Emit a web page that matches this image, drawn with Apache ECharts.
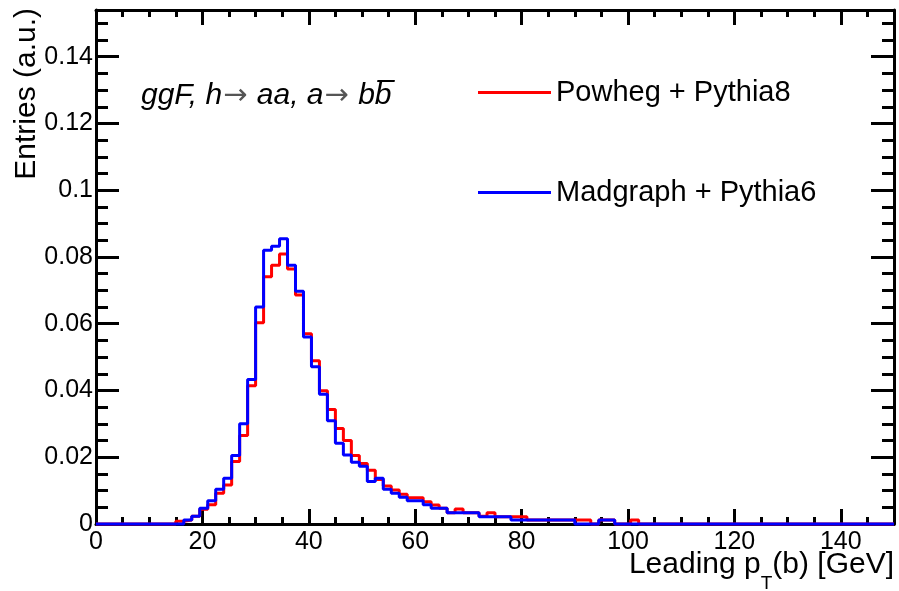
<!DOCTYPE html>
<html>
<head>
<meta charset="utf-8">
<script src="https://cdn.jsdelivr.net/npm/echarts@6/dist/echarts.min.js"></script>
<style>
  html, body { margin: 0; padding: 0; background: #fff; }
  #chart { width: 899px; height: 591px; }
</style>
</head>
<body>
<div id="chart"></div>
<script>
// 100 bins of 1.5 GeV between 0 and 150; bins outside FIRST_BIN..FIRST_BIN+len are empty
const BIN_WIDTH = 1.5
const N_BINS = 100
const FIRST_BIN = 10

const SERIES_NAMES = ['Powheg + Pythia8', 'Madgraph + Pythia6']

const POWHEG = [
  0.0008, 0.0012, 0.0023, 0.0044, 0.0058, 0.0092, 0.0117, 0.0187, 0.0265, 0.0414,
  0.0603, 0.0741, 0.0775, 0.0809, 0.0764, 0.0686, 0.0570, 0.0489, 0.0399, 0.0343,
  0.0286, 0.0250, 0.0205, 0.0181, 0.0161, 0.0133, 0.0114, 0.0102, 0.0089, 0.0079,
  0.0079, 0.0067, 0.0057, 0.0047, 0.0034, 0.0045, 0.0034, 0.0034, 0.0023, 0.0034,
  0.0022, 0.0022, 0.0022, 0.0022, 0.0012, 0.0012, 0.0012, 0.0012, 0.0012, 0.0012,
  0.0012, 0.0012, 0, 0.0012, 0.0012, 0, 0, 0.0012,
]
const MADGRAPH = [
  0, 0.0012, 0.0023, 0.0047, 0.0070, 0.0104, 0.0137, 0.0205, 0.0300, 0.0433,
  0.0650, 0.0820, 0.0832, 0.0855, 0.0775, 0.0697, 0.0560, 0.0471, 0.0389, 0.0309,
  0.0242, 0.0207, 0.0185, 0.0173, 0.0127, 0.0137, 0.0104, 0.0092, 0.0080, 0.0070,
  0.0070, 0.0058, 0.0047, 0.0047, 0.0034, 0.0034, 0.0034, 0.0034, 0.0022, 0.0022,
  0.0022, 0.0022, 0.0012, 0.0012, 0.0012, 0.0012, 0.0012, 0.0012, 0.0012, 0.0012,
  0, 0, 0, 0.0012, 0.0012, 0, 0, 0,
]

const X_MAX = 150
const Y_MAX = 0.154
const FONT = '"Liberation Sans", Arial, sans-serif'

function histPoints(vals) {
  const pts = []
  for (let k = 0; k < N_BINS; k++) {
    const i = k - FIRST_BIN
    pts.push([k * BIN_WIDTH, i >= 0 && i < vals.length ? vals[i] : 0])
  }
  pts.push([N_BINS * BIN_WIDTH, pts[pts.length - 1][1]])
  return pts
}

// ROOT style frame: major + minor ticks on all four sides, pointing inward
function xAxis(position, interval, tickLen, labels) {
  return {
    type: 'value', position, min: 0, max: X_MAX, interval,
    axisLine: { show: interval === 20, onZero: false, lineStyle: { color: '#000', width: 3 } },
    axisTick: { show: true, inside: true, length: tickLen, lineStyle: { color: '#000', width: 3 } },
    axisLabel: labels
      ? { show: true, showMaxLabel: false, margin: 6, color: '#000', fontSize: 25, fontFamily: FONT }
      : { show: false },
    splitLine: { show: false },
  }
}
function yAxis(position, interval, tickLen, labels) {
  return {
    type: 'value', position, min: 0, max: Y_MAX, interval,
    axisLine: { show: interval === 0.02, onZero: false, lineStyle: { color: '#000', width: 3 } },
    axisTick: { show: true, inside: true, length: tickLen, lineStyle: { color: '#000', width: 3 } },
    axisLabel: labels
      ? { show: true, showMaxLabel: false, margin: 3, color: '#000', fontSize: 25, fontFamily: FONT,
          formatter: v => String(+v.toFixed(3)) }
      : { show: false },
    splitLine: { show: false },
  }
}

const chart = echarts.init(document.getElementById('chart'), null, { renderer: 'canvas' })

const txt = { fontSize: 30, fontFamily: FONT, fontStyle: 'italic', fill: '#000' }
const arrow = { fontSize: 29, fontFamily: '"DejaVu Sans"', fill: '#555', padding: [0, 1, 0, 1] }

const option = {
  animation: false,
  backgroundColor: '#fff',
  grid: { left: 96, right: 5, top: 10, bottom: 67, containLabel: false },
  xAxis: [
    xAxis('bottom', 20, 15, true),
    xAxis('bottom', 5, 7, false),
    xAxis('top', 20, 15, false),
    xAxis('top', 5, 7, false),
  ],
  yAxis: [
    yAxis('left', 0.02, 23, true),
    yAxis('left', 0.005, 12, false),
    yAxis('right', 0.02, 23, false),
    yAxis('right', 0.005, 12, false),
  ],
  legend: {
    orient: 'vertical', left: 473, top: 73, itemGap: 71,
    itemWidth: 73, itemHeight: 3, icon: 'rect',
    selectedMode: false,
    textStyle: { color: '#000', fontSize: 29, fontFamily: FONT },
    data: SERIES_NAMES,
  },
  graphic: [
    {
      type: 'text', left: 141, top: 81,
      style: {
        text: '{t|ggF, h}{a|\u2192}{t| aa, a}{a|\u2192}{t| bb\u0305}',
        rich: { t: txt, a: arrow },
      },
    },
    {
      type: 'text', right: 5, top: 550,
      style: {
        text: '{m|Leading p}{s|T}{m|(b) [GeV]}',
        rich: {
          m: { fontSize: 30, fontFamily: FONT, fill: '#000', lineHeight: 31, verticalAlign: 'top' },
          s: { fontSize: 19, fontFamily: FONT, fill: '#000', lineHeight: 19, padding: [24, 0, 0, 0], verticalAlign: 'top' },
        },
      },
    },
    {
      type: 'text', x: 27, y: 8, rotation: Math.PI / 2,
      style: { text: 'Entries (a.u.)', fill: '#000', font: '30px ' + FONT, align: 'right', verticalAlign: 'middle' },
    },
  ],
  series: [
    {
      name: SERIES_NAMES[0], type: 'line', step: 'end', data: histPoints(POWHEG),
      showSymbol: false, symbol: 'none', clip: false,
      lineStyle: { color: '#ff0000', width: 3 }, itemStyle: { color: '#ff0000' },
    },
    {
      name: SERIES_NAMES[1], type: 'line', step: 'end', data: histPoints(MADGRAPH),
      showSymbol: false, symbol: 'none', clip: false,
      lineStyle: { color: '#0000ff', width: 3 }, itemStyle: { color: '#0000ff' },
    },
  ],
}

chart.setOption(option)
</script>
</body>
</html>
